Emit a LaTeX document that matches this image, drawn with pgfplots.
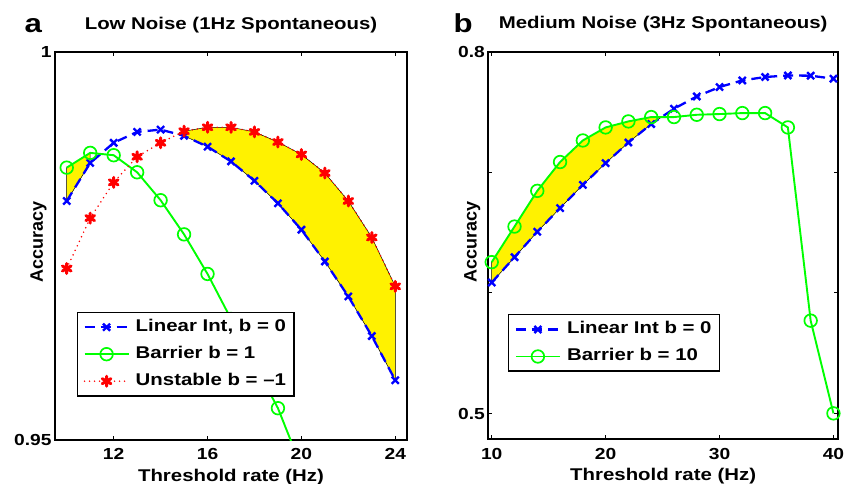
\documentclass[border=0pt]{standalone}
\usepackage{pgfplots}
\pgfplotsset{compat=1.18}
\usepackage{pgfplotstable}
\usepgfplotslibrary{fillbetween}
\usepackage{fontspec}
\setmainfont{Liberation Sans}[FakeStretch=1.2]
\newfontfamily\ylabfont{Liberation Sans}
\newfontfamily\legfont{Liberation Sans Bold}[FakeStretch=1.2]

\pgfplotstableread{
x lin bar uns
10 0.9808 0.9851 0.9721
11 0.9857 0.9870 0.9786
12 0.9883 0.9867 0.9832
13 0.9897 0.9845 0.9865
14 0.9900 0.9809 0.9883
15 0.9892 0.9765 0.9898
16 0.9878 0.9714 0.9903
17 0.9859 0.9656 0.9903
18 0.9834 0.9598 0.9897
19 0.9805 0.9541 0.9884
20 0.9771 0.9465 0.9868
21 0.9730 nan 0.9844
22 0.9685 nan 0.9808
23 0.9634 nan 0.9761
24 0.9577 nan 0.9698
}\lowtab

\pgfplotstableread{
x lin bar
10 0.6086 0.6255
12 0.6296 0.6550
14 0.6507 0.6846
16 0.6703 0.7085
18 0.6896 0.7264
20 0.7076 0.7372
22 0.7247 0.7422
24 0.7400 0.7458
26 0.7527 0.7458
28 0.7629 0.7477
30 0.7707 0.7483
32 0.7762 0.7491
34 0.7790 0.7491
36 0.7803 0.7372
38 0.7801 0.5770
40 0.7776 0.5001
}\medtab

\tikzset{
  linint/.style={blue, line width=2.3pt, dash pattern=on 10pt off 6pt, mark=x, mark size=5pt, mark options={solid, line width=2.4pt}},
  barr/.style={green, line width=1.9pt, mark=o, mark size=6.3pt, mark options={solid, line width=1.7pt}},
  unst/.style={red, line width=1.7pt, line cap=round, dash pattern=on 0pt off 5pt, mark=asterisk, mark size=5pt, mark options={solid, line width=3pt, line cap=round}},
}

\pgfplotsset{
  myax/.style={
    scale only axis,
    axis line style={line width=1.8pt},
    tick align=inside,
    major tick length=4pt,
    major tick style={black, line width=1pt},
    ticklabel style={font=\bfseries\fontsize{16}{16}\selectfont},
    xticklabel style={yshift=-5pt},
    label style={font=\bfseries\fontsize{17}{17}\selectfont},
    xlabel style={at={(axis description cs:0.5,0)}, anchor=base, yshift=-41.5pt},
    ylabel style={at={(axis description cs:0,0.51)}, anchor=center, font=\ylabfont\bfseries\fontsize{18}{18}\selectfont},
    title style={at={(axis description cs:0.5,1)}, anchor=base, yshift=17pt, font=\bfseries\fontsize{17}{17}\selectfont},
    legend cell align=left,
    legend style={draw=black, line width=1.5pt, font=\legfont\fontsize{17}{17}\selectfont,
      inner xsep=6pt, inner ysep=7pt, row sep=11.5pt, column sep=4pt,
      nodes={inner ysep=0pt, text height=12pt, text depth=3.5pt}},
  },
  legend image code/.code={\draw[mark repeat=2,mark phase=2,#1] plot coordinates {(0pt,0pt) (22pt,0pt) (44pt,0pt)};},
}

\begin{document}
\begin{tikzpicture}

\begin{axis}[myax,
  at={(55pt,-440pt)}, anchor=south west,
  width=352pt, height=388pt,
  xmin=9.5, xmax=24.5, ymin=0.95, ymax=1,
  xtick={12,16,20,24}, xticklabels={12,16,20,24},
  ytick={0.95,1}, yticklabels={0.95,1},
  xlabel={Threshold rate (Hz)},
  ylabel={Accuracy},
  ylabel style={yshift=16.5pt},
  title={Low Noise (1Hz Spontaneous)},
  legend style={at={(0.0616,0.3307)}, anchor=north west},
]
\addplot[draw=none, forget plot, name path=linL] table[x=x, y=lin] {\lowtab};
\addplot[draw=none, forget plot, name path=barL] table[x=x, y=bar] {\lowtab};
\addplot[draw=none, forget plot, name path=unsL] table[x=x, y=uns] {\lowtab};
\addplot[fill=yellow, draw=black, line width=0.5pt, forget plot] fill between[of=barL and linL, soft clip={domain=10:11}];
\addplot[fill=yellow, draw=black, line width=0.5pt, forget plot] fill between[of=unsL and linL, soft clip={domain=14.74:24}];
\addplot[linint] table[x=x, y=lin] {\lowtab};
\addplot[barr] table[x=x, y=bar] {\lowtab};
\addplot[unst] table[x=x, y=uns] {\lowtab};
\legend{{Linear Int, b = 0}, {Barrier b = 1}, {Unstable b = –1}}
\end{axis}

\begin{axis}[myax,
  at={(488.3pt,-439.3pt)}, anchor=south west,
  width=349.7pt, height=387.6pt,
  xmin=9.7, xmax=40.4, ymin=0.4786, ymax=0.8,
  xtick={10,20,30,40}, xticklabels={10,20,30,40},
  ytick={0.5,0.6,0.7,0.8}, yticklabels={0.5,,,0.8},
  xlabel={Threshold rate (Hz)},
  ylabel={Accuracy},
  ylabel style={yshift=16pt},
  title={Medium Noise (3Hz Spontaneous)},
  legend style={at={(0.0563,0.3233)}, anchor=north west},
]
\addplot[draw=none, forget plot, name path=linM] table[x=x, y=lin] {\medtab};
\addplot[draw=none, forget plot, name path=barM] table[x=x, y=bar] {\medtab};
\addplot[fill=yellow, draw=black, line width=0.5pt, forget plot] fill between[of=barM and linM, soft clip={domain=10:24.9}];
\addplot[linint] table[x=x, y=lin] {\medtab};
\addplot[barr] table[x=x, y=bar] {\medtab};
\legend{{Linear Int b = 0}, {Barrier b = 10}}
\end{axis}

\node[anchor=base west, font=\bfseries\fontsize{26}{26}\selectfont] at (21pt,-33pt) {a};
\node[anchor=base west, font=\bfseries\fontsize{26}{26}\selectfont] at (450pt,-33pt) {b};

\pgfresetboundingbox
\path[use as bounding box] (0pt,0pt) rectangle (844pt,-484pt);
\end{tikzpicture}
\end{document}
